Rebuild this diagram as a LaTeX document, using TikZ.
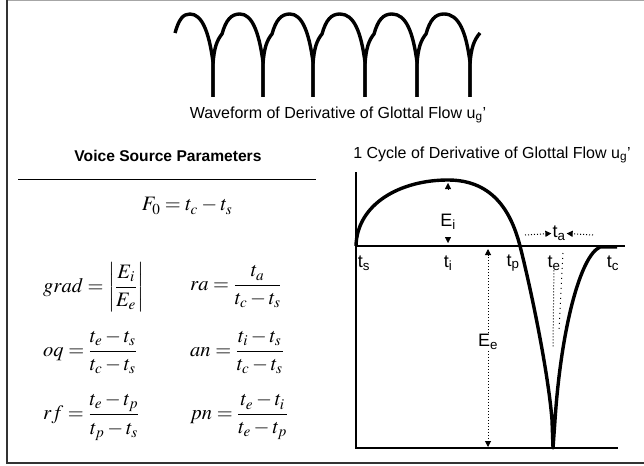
\documentclass[tikz,border=0pt]{standalone}
\usepackage{mathptmx}
\usepackage{fontspec}
\setmainfont{Liberation Sans}
\usetikzlibrary{arrows.meta}
\tikzset{
  frameline/.style={line width=2pt, draw=black!80},
  topline/.style={line width=1pt, draw=black!35},
  axisline/.style={line width=1.2pt, draw=black},
  wave/.style={line width=3.4pt, draw=black, line join=round, line cap=butt},
  pulse/.style={line width=3.4pt, draw=black, line join=round},
  dimline/.style={line width=1pt, dotted},
  tipmark/.style={line width=0.4pt, -{Triangle[length=6pt,width=6pt]}},
  caption/.style={font=\fontsize{16}{18}\selectfont, inner sep=1pt},
  boldcaption/.style={font=\bfseries\fontsize{15.6}{18}\selectfont, inner sep=1pt},
  tlabel/.style={font=\fontsize{18}{20}\selectfont, inner sep=1pt},
  eqn/.style={font=\fontsize{20.5}{23}\selectfont, anchor=west, inner sep=0pt},
}
\newcommand{\lowsub}[1]{\textsubscript{#1}}

\begin{document}
\begin{tikzpicture}[x=1pt,y=-1pt]
\useasboundingbox (0,0) rectangle (644,465);
% frame
\draw[topline] (6,0.5) -- (644,0.5);
\draw[frameline] (6.5,0) -- (6.5,463);
\draw[frameline] (6,462.5) -- (644,462.5);

% waveform, several periods
\draw[wave] (175,33) .. controls (179,19) and (183,14) .. (190,14)
  .. controls (202,14) and (209,32) .. (213,62) -- (213,97);
\foreach \a/\b in {213/263, 263/313, 313/365, 365/417, 417/470}
  \draw[wave] (\a,97) -- (\a,64) .. controls (\a+1,48) and (\a+4,40) .. (\a+9,34)
    .. controls (\a+13,20) and (\a+18,14) .. (\a+27,14)
    .. controls (\b-11,14) and (\b-4,32) .. (\b,62) -- (\b,97);
\draw[wave] (470,97) -- (470,64) .. controls (471,48) and (474,40) .. (480,33);
\node[caption] (wavecap) at (338,115) {Waveform of Derivative of Glottal Flow u\lowsub{g}'};

% parameter table
\node[boldcaption] (srctitle) at (168,156) {Voice Source Parameters};
\draw[line width=1pt] (18,179) -- (316,179);
\node[font=\fontsize{20.5}{24}\selectfont, inner sep=0pt] (f0eq) at (187,206)
  {$\thickmuskip=4mu \medmuskip=3mu F_0 = t_c - t_s$};
\node[eqn] (gradeq) at (43,287) {$\displaystyle grad = \left|\frac{E_i}{E_e}\right|$};
\node[eqn] (raeq) at (190,287) {$\displaystyle ra = \frac{t_a}{t_c - t_s}$};
\node[eqn] (oqeq) at (43,352) {$\displaystyle oq = \frac{t_e - t_s}{t_c - t_s}$};
\node[eqn] (aneq) at (190,352) {$\displaystyle an = \frac{t_i - t_s}{t_c - t_s}$};
\node[eqn] (rfeq) at (43,417) {$\displaystyle rf = \frac{t_e - t_p}{t_p - t_s}$};
\node[eqn] (pneq) at (190,417) {$\displaystyle pn = \frac{t_e - t_i}{t_e - t_p}$};

% one cycle
\node[caption] (cycletitle) at (492,155) {1 Cycle of Derivative of Glottal Flow u\lowsub{g}'};
\draw[axisline] (356,172) -- (356,449);
\draw[axisline] (356,246) -- (625,246);
\draw[axisline] (356,448) -- (618,448);
\draw[pulse] (356,246) .. controls (357,204) and (400,180) .. (448,180)
  .. controls (495,180) and (512,215) .. (520,246)
  .. controls (530,285) and (548,370) .. (552,420) -- (553,448) -- (555,420)
  .. controls (561,330) and (580,256) .. (600,247) -- (617,247);

\node[tlabel] (ts) at (364,263) {t\lowsub{s}};
\node[tlabel] (ti) at (448,263) {t\lowsub{i}};
\node[tlabel] (tp) at (513,263) {t\lowsub{p}};
\node[tlabel, fill=white, inner sep=0pt] (te) at (554,263) {t\lowsub{e}};
\node[tlabel] (tc) at (613,263) {t\lowsub{c}};

% E_i marker
\node[tlabel] (ei) at (448,222) {E\lowsub{i}};
\coordinate (eitop) at (448,183);
\coordinate (eibot) at (448,243);
\draw[tipmark] ([yshift=-6pt]eitop) -- (eitop);
\draw[tipmark] ([yshift=6pt]eibot) -- (eibot);

% E_e marker
\node[tlabel, fill=white] (ee) at (488,342) {E\lowsub{e}};
\coordinate (eetop) at (488,249);
\coordinate (eebot) at (488,447);
\draw[dimline, tipmark, line width=1pt] (ee) -- (eetop);
\draw[dimline, tipmark, line width=1pt] (ee) -- (eebot);

% t_e and tangent
\draw[dimline] (te) -- (553,347);
\draw[line width=1pt, dash pattern=on 1pt off 4pt] (563,253) -- (559,332);

% t_a marker
\node[tlabel] (ta) at (559,233) {t\lowsub{a}};
\coordinate (taleft) at (525,235);
\coordinate (taright) at (593,235);
\draw[dimline, tipmark, line width=1pt] (taleft) -- (ta);
\draw[dimline, tipmark, line width=1pt] (taright) -- (ta);
\end{tikzpicture}
\end{document}
